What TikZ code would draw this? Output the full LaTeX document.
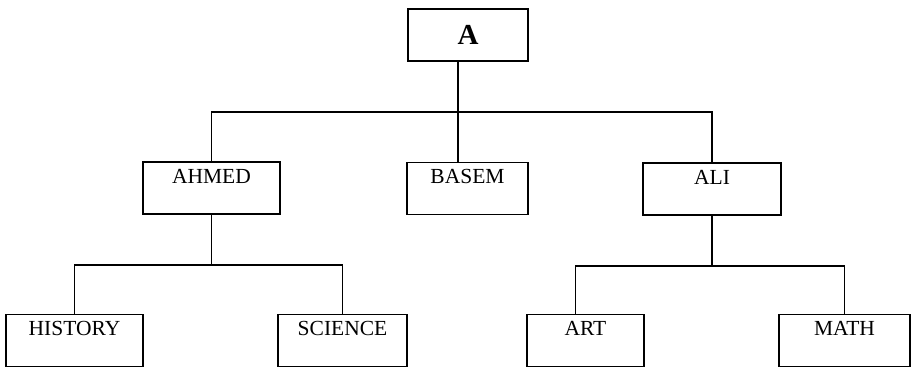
\documentclass[tikz,border=0pt]{standalone}
\usepackage{fontspec}
\setmainfont{Liberation Serif}
\usetikzlibrary{positioning}

\begin{document}
\begin{tikzpicture}[
  x=1pt, y=-1pt,
  line width=1.2pt,
  every node/.style={font=\fontsize{21.5}{24}\selectfont},
  root/.style={draw, minimum width=120pt, minimum height=52pt, inner sep=0pt,
               font=\fontsize{29}{32}\selectfont\bfseries},
  item/.style={draw, inner sep=0pt, minimum height=52pt,
               text height=21pt, text depth=31pt},
]
  \useasboundingbox (0,0) rectangle (913,368);

  % root
  \node[root] (A) at (468,35) {A};

  % second level
  \node[item, minimum width=137pt] (ahmed) at (211.5,188) {AHMED};
  \node[item, minimum width=121pt] (basem) at (467.5,188.5) {BASEM};
  \node[item, minimum width=138pt] (ali)   at (712,189) {ALI};

  % third level
  \node[item, minimum width=137pt] (history) at (74.5,340.5) {HISTORY};
  \node[item, minimum width=129pt] (science) at (342.5,340.5) {SCIENCE};
  \node[item, minimum width=117pt] (art)     at (585.5,340.5) {ART};
  \node[item, minimum width=131pt] (math)    at (844.5,340.5) {MATH};

  % junctions of the horizontal bars
  \coordinate (bus1) at (458,112);
  \coordinate (bus2) at (211.5,265);
  \coordinate (bus3) at (712,266);

  \draw (A.south -| bus1) -- (basem.north -| bus1);
  \draw (ahmed.north) |- (bus1) -| (ali.north);

  \draw (ahmed.south) -- (bus2);
  \draw (history.north) |- (bus2) -| (science.north);

  \draw (ali.south) -- (bus3);
  \draw ([xshift=-10pt]art.north) |- (bus3) -| (math.north);
\end{tikzpicture}
\end{document}
